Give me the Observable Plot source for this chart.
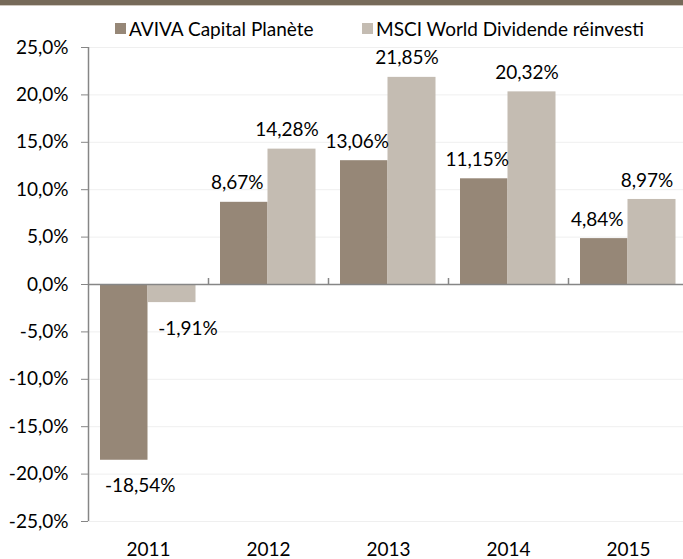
<!DOCTYPE html>
<html>
<head>
<meta charset="utf-8">
<script src="https://cdn.jsdelivr.net/npm/d3@7"></script>
<script src="https://cdn.jsdelivr.net/npm/@observablehq/plot@0.6"></script>
<style>
  html, body { margin: 0; padding: 0; background: #fff; }
  #wrap { position: relative; width: 683px; height: 559px; overflow: hidden; font-family: Lato, "Open Sans", sans-serif; }
  #strip { position: absolute; left: 0; top: 0; width: 683px; height: 5px; background: #766a59; border-bottom: 1px solid #cfc8bf; }
  #legend { position: absolute; left: 0; top: 16px; font-size: 19px; color: #000; white-space: nowrap; }
  .item { position: absolute; top: 0; display: flex; align-items: center; height: 24px; }
  .sw { width: 11px; height: 11px; margin-right: 3px; }
  #chart { position: absolute; left: 0; top: 0; }
</style>
</head>
<body>
<div id="wrap">
  <div id="chart"></div>
  <div id="strip"></div>
  <div id="legend"></div>
</div>
<script>
const years = ["2011", "2012", "2013", "2014", "2015"];
const seriesNames = ["AVIVA Capital Planète", "MSCI World Dividende réinvesti"];
const aviva = [-18.54, 8.67, 13.06, 11.15, 4.84];
const msci = [-1.91, 14.28, 21.85, 20.32, 8.97];
const yTicks = [-25, -20, -15, -10, -5, 0, 5, 10, 15, 20, 25];
const colors = ["#968777", "#c4bcb2"];

const rowsA = years.map((y, i) => ({year: y, series: seriesNames[0], value: aviva[i]}));
const rowsM = years.map((y, i) => ({year: y, series: seriesNames[1], value: msci[i]}));

const pct2 = v => v.toFixed(2).replace(".", ",") + "%";
const pct1 = v => v.toFixed(1).replace(".", ",") + "%";
const axisGray = "#868686";
const font = "Lato, 'Open Sans', sans-serif";
const fs = 19;

function labels(rows, barDx, posShift, negShift) {
  return [
    Plot.text(rows.filter(d => d.value >= 0), {x: "year", y: "value", text: d => pct2(d.value), dx: barDx + posShift, dy: -19, fontSize: fs, fill: "#000"}),
    Plot.text(rows.filter(d => d.value < 0), {x: "year", y: "value", text: d => pct2(d.value), dx: barDx + negShift, dy: 26, fontSize: fs, fill: "#000"})
  ];
}

const chart = Plot.plot({
  width: 683,
  height: 559,
  marginTop: 47,
  marginBottom: 38,
  marginLeft: 88,
  marginRight: 0,
  style: {fontFamily: font, fontSize: fs + "px", background: "transparent", color: "#000"},
  x: {domain: years, range: [88, 688], padding: 0, label: null},
  y: {domain: [-25, 25], label: null},
  marks: [
    Plot.ruleY(yTicks.filter(t => t !== 0), {stroke: "#efefef", strokeWidth: 1}),
    Plot.barY(rowsA, {x: "year", y: "value", fill: colors[0], insetLeft: 12, insetRight: 60.5}),
    Plot.barY(rowsM, {x: "year", y: "value", fill: colors[1], insetLeft: 59.5, insetRight: 12.5}),
    Plot.ruleY([0], {stroke: axisGray, strokeWidth: 1.5}),
    Plot.ruleX(years, {x: d => d, dx: 60, y1: 0, y2: 0, insetTop: -6, stroke: axisGray, strokeWidth: 1.5}),
    Plot.ruleX([years[0]], {x: d => d, dx: -60, stroke: axisGray, strokeWidth: 1.5}),
    Plot.axisY({ticks: yTicks, tickFormat: pct1, tickSize: 7, tickPadding: 13, stroke: axisGray, fontSize: fs, fill: "#000"}),
    Plot.axisX({anchor: "bottom", tickSize: 0, tickPadding: 21, fontSize: fs, fill: "#000"}),
    ...labels(rowsA, -24.25, -7, 16),
    ...labels(rowsM, 23.5, -5, 16)
  ]
});
document.getElementById("chart").appendChild(chart);

const legend = document.getElementById("legend");
const legendX = [115, 362];
seriesNames.forEach((name, i) => {
  const item = document.createElement("div");
  item.className = "item";
  item.style.left = legendX[i] + "px";
  const sw = document.createElement("span");
  sw.className = "sw";
  sw.style.background = colors[i];
  const t = document.createElement("span");
  t.textContent = name;
  item.appendChild(sw);
  item.appendChild(t);
  legend.appendChild(item);
});
</script>
</body>
</html>
